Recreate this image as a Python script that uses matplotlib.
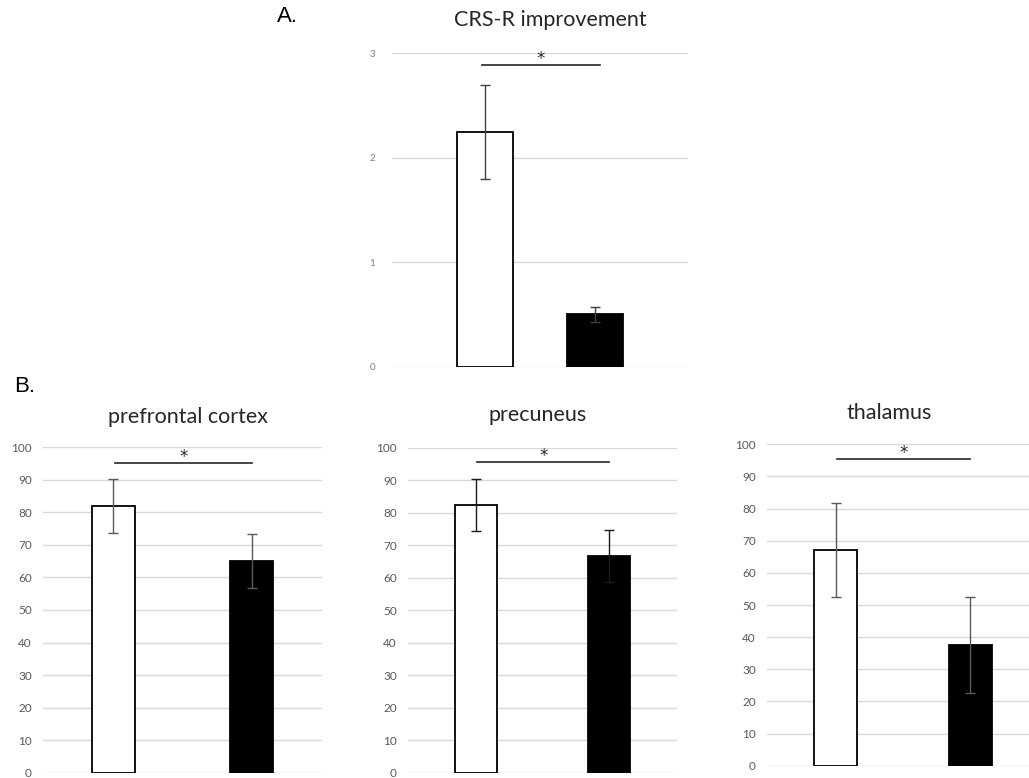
import matplotlib
matplotlib.use("Agg")
import matplotlib.pyplot as plt

plt.rcParams["font.family"] = ["Lato", "DejaVu Sans"]

groups = ["responders", "non-responders"]

# Panel A: CRS-R improvement
crs_means = [2.25, 0.50]
crs_errs = [0.45, 0.07]

# Panel B: regional values
regions = ["prefrontal cortex", "precuneus", "thalamus"]
region_means = {
    "prefrontal cortex": [82.0, 65.2],
    "precuneus": [82.5, 66.6],
    "thalamus": [67.1, 37.5],
}
region_errs = {
    "prefrontal cortex": [8.4, 8.3],
    "precuneus": [8.0, 8.0],
    "thalamus": [14.7, 14.9],
}

W, H = 1029, 778
fig = plt.figure(figsize=(W / 100, H / 100), dpi=100)


def px_axes(x0, y0, x1, y1):
    return fig.add_axes([x0 / W, 1 - y1 / H, (x1 - x0) / W, (y1 - y0) / H])


def style_axes(ax, ymax, step, label_size, label_color, pad):
    n = int(round(ymax / step))
    ax.set_ylim(0, ymax)
    ax.set_yticks([i * step for i in range(n + 1)])
    ax.set_yticklabels([f"{int(round(i * step))}" for i in range(n + 1)])
    for s in ax.spines.values():
        s.set_visible(False)
    ax.set_xticks([])
    ax.tick_params(axis="y", length=0, labelsize=label_size, labelcolor=label_color, pad=pad)
    ax.grid(axis="y", color="#d9d9d9", linewidth=1.0)
    ax.set_axisbelow(True)


def draw_bars(ax, means, errs, width, ecolor):
    x = list(range(len(means)))
    ax.bar(x, means, width=width, color=["white", "black"], edgecolor="black",
           linewidth=1.3, zorder=2)
    ax.errorbar(x, means, yerr=errs, fmt="none", ecolor=ecolor, elinewidth=1.0,
                capsize=3.6, capthick=1.0, zorder=3)


def sig_mark(ax, y_line, y_star, x0=0.0, x1=1.0, lw=1.2):
    ax.plot([x0, x1], [y_line, y_line], color="#262626", linewidth=lw,
            clip_on=False, zorder=4)
    ax.text((x0 + x1) / 2, y_star, "*", ha="center", va="center", fontsize=12,
            family=["DejaVu Sans"], color="#262626", clip_on=False)


# ---- Panel A ----
axA = px_axes(392, 53.3, 688, 366.7)
style_axes(axA, 3, 1, 7, "#7f7f7f", 12)
draw_bars(axA, crs_means, crs_errs, 0.51, "#404040")
axA.set_xlim(-0.845, 1.845)
sig_mark(axA, 2.887, 2.945, -0.027, 1.045)
fig.text(550 / W, 1 - 20 / H, "CRS-R improvement", ha="center", va="center",
         fontsize=15.5, color="#262626")
fig.text(287 / W, 1 - 17 / H, "A.", ha="center", va="center", fontsize=16,
         family=["Liberation Sans", "DejaVu Sans"], color="black")

# ---- Panel B ----
layouts = {
    "prefrontal cortex": dict(box=(43, 447.3, 322, 772.7), width=0.31, ecolor="#595959",
                              title_xy=(188, 417), line=95.1, star=96.9),
    "precuneus": dict(box=(408, 448, 677, 772.5), width=0.315, ecolor="#1a1a1a",
                      title_xy=(538, 415), line=95.6, star=97.4),
    "thalamus": dict(box=(767, 444.3, 1039, 765.7), width=0.32, ecolor="#595959",
                     title_xy=(889, 413), line=95.4, star=97.2),
}

for name in regions:
    lay = layouts[name]
    ax = px_axes(*lay["box"])
    style_axes(ax, 100, 10, 8.5, "#595959", 8)
    draw_bars(ax, region_means[name], region_errs[name], lay["width"], lay["ecolor"])
    ax.set_xlim(-0.51, 1.51)
    sig_mark(ax, lay["line"], lay["star"], 0.01, 1.0)
    tx, ty = lay["title_xy"]
    fig.text(tx / W, 1 - ty / H, name, ha="center", va="center", fontsize=15.5,
             color="#262626")

fig.text(25 / W, 1 - 386 / H, "B.", ha="center", va="center", fontsize=16,
         family=["Liberation Sans", "DejaVu Sans"], color="black")

fig.savefig("out.png", dpi=100, facecolor="white")
